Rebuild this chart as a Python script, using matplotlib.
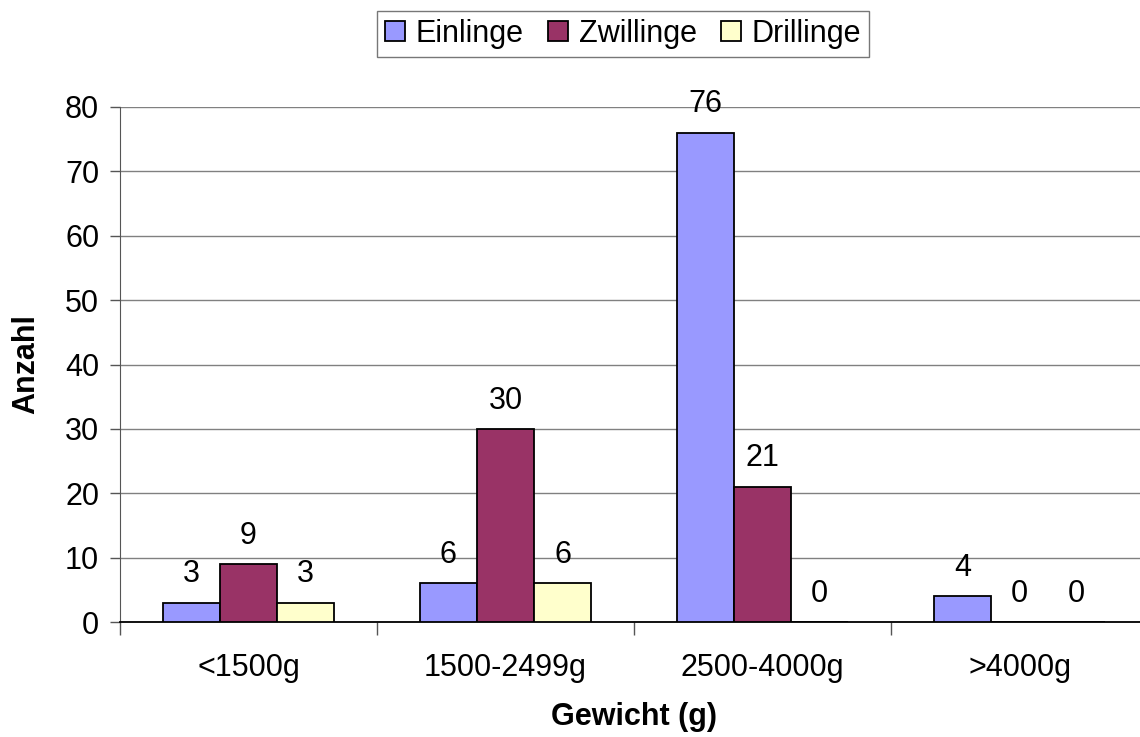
import matplotlib.pyplot as plt
import numpy as np

plt.rcParams['font.family'] = ['Liberation Sans', 'DejaVu Sans']

kategorien = ['<1500g', '1500-2499g', '2500-4000g', '>4000g']
einlinge = [3, 6, 76, 4]
zwillinge = [9, 30, 21, 0]
drillinge = [3, 6, 0, 0]
serien = ['Einlinge', 'Zwillinge', 'Drillinge']
farben = ['#9999ff', '#993366', '#ffffcc']

fig = plt.figure(figsize=(11.4, 7.37), dpi=100)
ax = fig.add_axes([120 / 1140, 1 - 622 / 737, 1028 / 1140, 515 / 737])

x = np.arange(len(kategorien))
breite = 0.222
for i, (werte, name, farbe) in enumerate(zip([einlinge, zwillinge, drillinge], serien, farben)):
    pos = x + (i - 1) * breite
    ax.bar(pos, werte, breite, color=farbe, edgecolor='black', linewidth=1.3,
           label=name, zorder=3)
    for p, w in zip(pos, werte):
        ax.text(p, w + 4.4, str(w), ha='center', va='center', fontsize=22)

ax.set_xlim(-0.5, 3.5)
ax.set_ylim(0, 80)
ax.set_yticks(range(0, 81, 10))
ax.tick_params(axis='y', labelsize=22, length=7, width=1, color='#555555', pad=8)
ax.set_xticks(x)
ax.set_xticklabels(kategorien, fontsize=22)
ax.tick_params(axis='x', length=0, pad=22)
ax.set_xticks(np.arange(-0.5, 3.6, 1), minor=True)
ax.tick_params(axis='x', which='minor', length=9, width=1, color='#555555')

ax.grid(axis='y', color='#808080', linewidth=1, zorder=0)
for s in ['top', 'right']:
    ax.spines[s].set_visible(False)
ax.spines['left'].set_color('#555555')
ax.spines['bottom'].set_color('black')
ax.spines['bottom'].set_linewidth(1.3)

ax.set_ylabel('Anzahl', fontsize=22, fontweight='bold', labelpad=17)
ax.set_xlabel('Gewicht (g)', fontsize=22, fontweight='bold', labelpad=14)

leg = fig.legend(loc='center', bbox_to_anchor=(623 / 1140, 1 - 34 / 737), ncol=3,
                 fontsize=22, frameon=True, fancybox=False, edgecolor='#555555',
                 handlelength=0.65, handleheight=0.65, handletextpad=0.35,
                 columnspacing=0.8, borderpad=0.25)

fig.savefig('out.png', dpi=100)
